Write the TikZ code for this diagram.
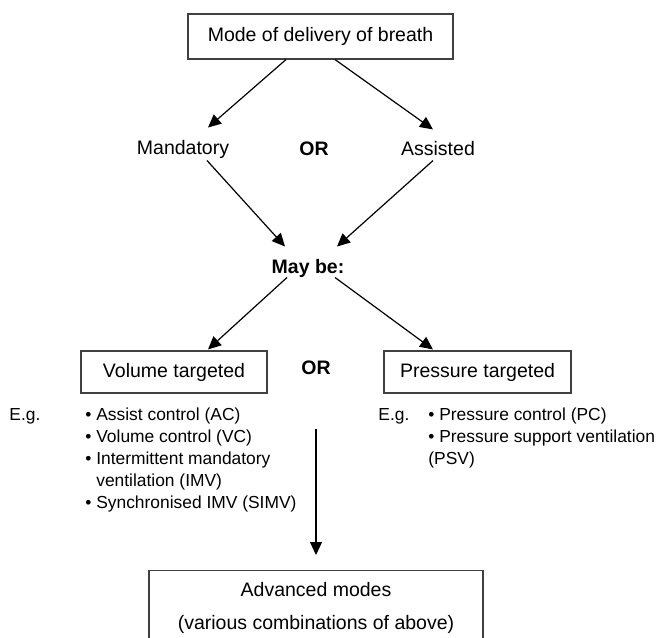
\documentclass[tikz,border=0pt]{standalone}
\usepackage{fontspec}
\setmainfont{Liberation Sans}
\usetikzlibrary{arrows.meta}

\begin{document}
\begin{tikzpicture}[x=0.5pt,y=-0.5pt,
    font=\fontsize{9.75}{11.5}\selectfont,
    box/.style={draw=black!75,line width=0.55pt,inner sep=0pt},
    word/.style={inner sep=0pt},
    small/.style={inner sep=0pt,anchor=base west,font=\fontsize{8.7}{11}\selectfont},
    arr/.style={-{Triangle[length=6.5pt,width=6pt]},line width=0.6pt}] % modes of ventilation
\clip (0,0) rectangle (668,637);
    \node[box,minimum width=132.5pt,minimum height=22.5pt] (mode) at (320.5,36.5) {Mode of delivery of breath};
    \node[word] (mand) at (183,149) {Mandatory};
    \node[word] (or1) at (314,149) {\bfseries OR};
    \node[word] (assist) at (438,149) {Assisted};
    \node[word] (maybe) at (308,268) {\bfseries May be:};
    \node[box,minimum width=93pt,minimum height=21pt] (vol) at (174,372) {Volume targeted};
    \node[word] (or2) at (316,368) {\bfseries OR};
    \node[box,minimum width=93.5pt,minimum height=21pt] (press) at (477.5,372) {Pressure targeted};
    \node[box,anchor=north,minimum width=167pt,minimum height=37pt,align=center] (adv) at (316,570)
        {Advanced modes\\[5pt](various combinations of above)};
    % examples
    \node[small] (eg1) at (9,420) {E.g.};
    \node[small] (list1) at (85,420) {\begin{tabular}[t]{@{}l@{\ }l@{}}
        • & Assist control (AC)\\
        • & Volume control (VC)\\
        • & Intermittent mandatory\\
          & ventilation (IMV)\\
        • & Synchronised IMV (SIMV)
        \end{tabular}};
    \node[small] (eg2) at (378,420) {E.g.};
    \node[small] (list2) at (428,420) {\begin{tabular}[t]{@{}l@{}}
        • Pressure control (PC)\\
        • Pressure support ventilation\\
        (PSV)
        \end{tabular}};
    % arrows
    \draw[arr] ([xshift=-17.25pt]mode.south) -- ([xshift=12.5pt,yshift=6pt]mand.north);
    \draw[arr] ([xshift=7.25pt]mode.south) -- ([xshift=-2.5pt,yshift=6pt]assist.north);
    \draw[arr] ([xshift=12pt,yshift=-1pt]mand.south) -- ([xshift=-11.5pt,yshift=6pt]maybe.north);
    \draw[arr] ([xshift=-2.5pt,yshift=-2pt]assist.south) -- ([xshift=14.5pt,yshift=6pt]maybe.north);
    \draw[arr] ([xshift=-10.5pt]maybe.south) -- ([xshift=17pt,yshift=0.5pt]vol.north);
    \draw[arr] ([xshift=13.5pt]maybe.south) -- ([xshift=-22.25pt,yshift=0.5pt]press.north);
    \coordinate (split) at ([yshift=-27pt]or2.south);
    \draw[arr,shorten >=7.5pt] (split) -- (adv.north);
\end{tikzpicture}
\end{document}
